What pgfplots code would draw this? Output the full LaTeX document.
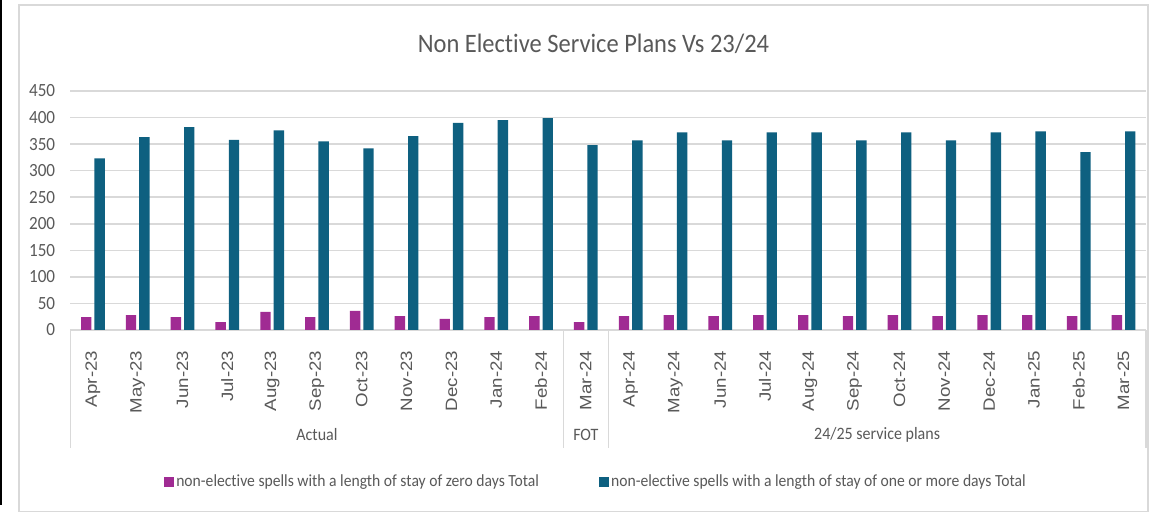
\documentclass[border=0pt]{standalone}
\usepackage{pgfplots}
\pgfplotsset{compat=1.18}
\usepackage{fontspec}
\setmainfont{Carlito}[FakeStretch=0.92, Ligatures=CommonOff]
\newfontfamily\monthfont{Liberation Sans}[FakeStretch=1.14]
\definecolor{txt}{HTML}{595959}
\definecolor{gridc}{HTML}{D9D9D9}
\definecolor{pinkc}{HTML}{A02B93}
\definecolor{bluec}{HTML}{0E6080}
\begin{document}
\begin{tikzpicture}
% canvas 1153x513 px at 0.5pt per px
\fill[white] (0pt,0pt) rectangle (576.5pt,256.5pt);
\useasboundingbox (0pt,0pt) rectangle (576.5pt,256.5pt);
\draw[gridc, line width=0.75pt] (9.5pt,0.75pt) rectangle (574pt,254pt);
\fill[black] (0pt,4pt) rectangle (1.2pt,256.5pt);
\node[text=txt, font=\fontsize{13.3}{14}\selectfont] at (296.75pt,234.5pt) {Non Elective Service Plans Vs 23/24};
\begin{axis}[
  at={(35.25pt,91.5pt)}, anchor=south west,
  scale only axis, width=537.75pt, height=119.5pt,
  ymin=0, ymax=450, ytick={0,50,...,450},
  xmin=-0.5, xmax=23.5,
  xtick={0,...,23},
  xticklabels={Apr-23,May-23,Jun-23,Jul-23,Aug-23,Sep-23,Oct-23,Nov-23,Dec-23,Jan-24,Feb-24,Mar-24,Apr-24,May-24,Jun-24,Jul-24,Aug-24,Sep-24,Oct-24,Nov-24,Dec-24,Jan-25,Feb-25,Mar-25},
  ybar=1.5pt, bar width=5.2pt,
  axis x line*=bottom, axis y line*=left,
  x axis line style={draw=gridc, line width=0.75pt, -},
  y axis line style={draw=none},
  tick style={draw=none},
  ymajorgrids, grid style={draw=gridc, line width=0.75pt},
  xticklabel style={rotate=90, anchor=east, inner sep=0pt, text=txt, font=\monthfont\fontsize{8.2}{9}\selectfont},
  xticklabel shift=6pt,
  yticklabel style={anchor=east, inner sep=0pt, text=txt, font=\fontsize{9.3}{10}\selectfont},
  yticklabel shift=7.5pt,
  /pgf/number format/assume math mode=true,
  clip=false,
  legend columns=2,
  legend style={draw=none, fill=none, at={(0.4886,-0.636)}, anchor=center,
    font=\fontsize{8.5}{9}\selectfont, text=txt,
    nodes={inner sep=1pt},
    /tikz/every even column/.append style={column sep=29pt}},
  legend cell align=left,
  legend image code/.code={\fill[#1, draw=none] (0pt,-2.5pt) rectangle (5pt,2.5pt);},
]
\addplot[fill=pinkc, draw=none] coordinates {
(0,24) (1,28) (2,24) (3,15) (4,34) (5,24) (6,36) (7,26) (8,21) (9,24) (10,26) (11,15)
(12,26) (13,28) (14,26) (15,28) (16,28) (17,26) (18,28) (19,26) (20,28) (21,28) (22,26) (23,28)};
\addplot[fill=bluec, draw=none] coordinates {
(0,323) (1,363) (2,382) (3,358) (4,376) (5,355) (6,342) (7,365) (8,390) (9,395) (10,399) (11,348)
(12,357) (13,372) (14,357) (15,372) (16,372) (17,357) (18,372) (19,357) (20,372) (21,374) (22,335) (23,374)};
\legend{non-elective spells with a length of stay of zero days Total, non-elective spells with a length of stay of one or more days Total}
\foreach \xx in {-0.5,10.5,11.5,23.5}{
  \edef\tmp{\noexpand\draw[gridc, line width=0.75pt] (axis cs:\xx,0) -- ++(0pt,-59pt);}\tmp
}
\node[text=txt, font=\fontsize{8.7}{9}\selectfont] at (axis cs:5,0) [yshift=-52.5pt] {Actual};
\node[text=txt, font=\fontsize{8.7}{9}\selectfont] at (axis cs:11,0) [yshift=-52.5pt] {FOT};
\node[text=txt, font=\fontsize{8.7}{9}\selectfont] at (axis cs:17.5,0) [yshift=-52.5pt] {24/25 service plans};
\end{axis}
\end{tikzpicture}
\end{document}
